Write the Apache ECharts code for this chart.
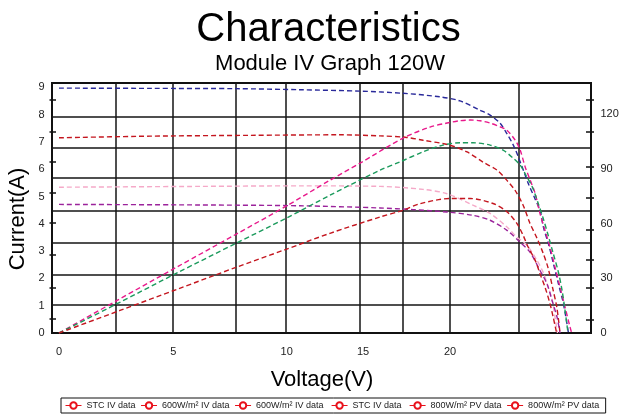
<!DOCTYPE html>
<html>
<head>
<meta charset="utf-8">
<script src="https://cdn.jsdelivr.net/npm/echarts@6/dist/echarts.min.js"></script>
<style>html,body{margin:0;padding:0;background:#fff}</style>
</head>
<body>
<div id="main" style="width:621px;height:418px;"></div>
<script>
// x axis (volts) and tick labels as printed on the original
var xTickLabels = ['0', '5', '10', '15', '20'];
var xTickAt = [0, 5.02, 10, 13.35, 17.17];
var vGrid = [2.5, 5.01, 7.77, 9.97, 13.22, 15.11, 17.17, 20.2];

// left axis (current) and right axis (power)
var iLabels = [0, 1, 2, 3, 4, 5, 6, 7, 8, 9];
var pLabels = [0, 30, 60, 90, 120];
var hGrid = [1.03, 2.15, 3.31, 4.48, 5.67, 6.79, 7.92];
var leftTicks = [0.54, 1.64, 2.86, 4.02, 5.14, 6.27, 7.37, 8.56];
var rightTicks = [0.48, 1.64, 2.7, 3.8, 4.97, 6.09, 7.37, 8.56];

var legendNames = ['STC IV data', '600W/m² IV data', '600W/m² IV data ', 'STC IV data ', '800W/m² PV data', '800W/m² PV data '];

// IV curves
var blueV = [0, 4.00, 7.77, 10.58, 13.22, 15.11, 16.73, 17.61, 18.49, 18.93, 19.37, 19.66, 19.95, 20.17, 20.39, 20.61, 20.90, 21.12, 21.27, 21.49, 21.71, 21.93, 22.15, 22.37];
var blueI = [8.97, 8.96, 8.95, 8.91, 8.86, 8.78, 8.65, 8.50, 8.16, 7.98, 7.68, 7.31, 6.88, 6.45, 5.96, 5.47, 4.92, 4.49, 3.88, 3.27, 2.54, 1.80, 1.07, 0];

var redIvV = [0, 4.00, 8.39, 12.34, 14.10, 15.20, 15.99, 17.17, 17.92, 18.62, 19.24, 19.67, 20.02, 20.38, 20.68, 20.99, 21.26, 21.48, 21.70, 21.86, 22.00];
var redIvI = [7.15, 7.21, 7.24, 7.26, 7.22, 7.17, 7.06, 6.88, 6.63, 6.26, 5.96, 5.59, 5.23, 4.68, 4.02, 3.47, 2.92, 2.37, 1.56, 0.94, 0];

var pinkV = [0, 6.19, 10.58, 14.10, 15.99, 17.04, 18.18, 18.93, 19.67, 20.11, 20.55, 20.99, 21.26, 21.48, 21.66, 21.78, 21.89];
var pinkI = [5.34, 5.37, 5.39, 5.37, 5.26, 5.10, 4.68, 4.38, 3.88, 3.51, 3.21, 2.66, 2.22, 1.68, 1.19, 0.58, 0];

var purpleV = [0, 6.19, 10.58, 14.10, 15.55, 17.04, 18.18, 18.93, 19.67, 20.24, 20.68, 21.12, 21.43, 21.65, 21.87, 22.00];
var purpleI = [4.71, 4.69, 4.66, 4.58, 4.52, 4.43, 4.31, 4.13, 3.76, 3.33, 2.96, 2.29, 1.80, 1.19, 0.58, 0];

// PV curves
var magV = [0, 2.55, 5.23, 7.77, 9.97, 11.90, 13.22, 15.11, 16.29, 17.04, 17.61, 18.05, 18.49, 18.93, 19.37, 19.66, 20.03, 20.25, 20.47, 20.69, 20.91, 21.12, 21.34, 21.56, 21.78, 22.00, 22.22, 22.44, 22.51];
var magP = [0, 17.85, 36.52, 54.09, 69.47, 83.75, 93.08, 106.81, 112.85, 115.05, 116.31, 116.69, 116.31, 115.05, 113.0, 111.2, 105.71, 100.22, 91.0, 83.75, 76.4, 65.5, 56.29, 47.1, 36.1, 25.2, 14.2, 3.2, 0];

var greenV = [0, 2.55, 5.23, 7.77, 9.97, 11.90, 14.10, 14.98, 15.99, 16.86, 17.61, 18.18, 18.93, 19.50, 19.94, 20.25, 20.55, 20.77, 21.04, 21.26, 21.48, 21.70, 21.92, 22.09, 22.22, 22.35];
var greenP = [0, 16.04, 33.22, 49.15, 62.88, 75.51, 89.24, 93.80, 99.29, 102.97, 104.23, 104.23, 102.97, 100.22, 95.83, 91.98, 85.39, 80.45, 71.11, 62.88, 53.54, 43.66, 33.77, 23.34, 12.36, 0];

var redPvV = [0, 2.68, 5.23, 7.77, 9.97, 11.90, 14.10, 15.11, 15.85, 17.17, 18.05, 19.06, 19.68, 20.11, 20.38, 20.60, 20.91, 21.12, 21.34, 21.56, 21.70, 21.85];
var redPvP = [0, 12.36, 24.16, 35.97, 45.85, 54.64, 63.59, 67.27, 70.84, 73.70, 73.70, 70.95, 66.34, 59.97, 53.54, 47.12, 39.81, 32.51, 25.15, 16.04, 8.68, 0];

var font = 'Liberation Sans, Arial, sans-serif';
var gridColor = '#151515';
var legendRed = '#e8101a';

function pairs(xs, ys) {
    return xs.map(function (x, i) { return [x, ys[i]]; });
}

function curve(name, color, xs, ys, yIndex) {
    return {
        name: name,
        type: 'line',
        yAxisIndex: yIndex,
        data: pairs(xs, ys),
        smooth: 0.3,
        symbol: 'emptyCircle',
        showSymbol: false,
        lineStyle: { color: color, width: 1.4, type: [5, 3] },
        itemStyle: { color: color }
    };
}

var chart = echarts.init(document.getElementById('main'));

var option = {
    animation: false,
    backgroundColor: '#fff',
    textStyle: { fontFamily: font },
    grid: {
        left: 52, right: 30, top: 83, bottom: 85,
        show: true, borderColor: '#111', borderWidth: 2,
        containLabel: false, outerBoundsMode: 'none'
    },
    graphic: [
        { type: 'text', x: 328.5, y: 30, style: { text: 'Characteristics', font: '40px ' + font, fill: '#000', align: 'center', verticalAlign: 'middle' } },
        { type: 'text', x: 330, y: 64, style: { text: 'Module IV Graph 120W', font: '22px ' + font, fill: '#000', align: 'center', verticalAlign: 'middle' } },
        { type: 'text', x: 17.5, y: 219, rotation: Math.PI / 2, style: { text: 'Current(A)', font: '22px ' + font, fill: '#000', align: 'center', verticalAlign: 'middle' } },
        { type: 'text', x: 322, y: 380, style: { text: 'Voltage(V)', font: '22px ' + font, fill: '#000', align: 'center', verticalAlign: 'middle' } }
    ],
    legend: {
        left: 61, top: 398, right: 6,
        orient: 'horizontal',
        borderColor: '#111', borderWidth: 1,
        padding: [3, 4, 3, 4],
        itemGap: 5,
        itemWidth: 16, itemHeight: 8,
        textStyle: { fontSize: 9, color: '#222', fontFamily: font },
        data: legendNames.map(function (n) {
            return {
                name: n,
                itemStyle: { color: legendRed, borderColor: legendRed, borderWidth: 1 },
                lineStyle: { color: legendRed, type: [100, 0], width: 1 }
            };
        })
    },
    xAxis: [{
        type: 'value',
        min: -0.307, max: 23.36,
        position: 'bottom',
        axisLine: { show: false },
        axisTick: { show: false, customValues: vGrid },
        splitLine: { show: true, lineStyle: { color: gridColor, width: 1.5 } },
        axisLabel: {
            customValues: xTickAt,
            margin: 13, fontSize: 11, color: '#222',
            formatter: function (v) {
                var k = xTickAt.findIndex(function (t) { return Math.abs(t - v) < 1e-6; });
                return k < 0 ? '' : xTickLabels[k];
            }
        }
    }],
    yAxis: [{
        type: 'value', min: 0, max: 9.157, position: 'left',
        axisLine: { show: false }, axisTick: { show: false }, splitLine: { show: false },
        axisLabel: { customValues: iLabels, margin: 7.5, fontSize: 11, color: '#222' }
    }, {
        type: 'value', min: 0, max: 137, position: 'right',
        axisLine: { show: false }, axisTick: { show: false }, splitLine: { show: false },
        axisLabel: { customValues: pLabels, margin: 9.5, fontSize: 11, color: '#222' }
    }, {
        type: 'value', min: 0, max: 9.157, position: 'left',
        axisLine: { show: false }, axisLabel: { show: false },
        axisTick: { show: false, customValues: hGrid },
        splitLine: { show: true, lineStyle: { color: gridColor, width: 1.5 } }
    }, {
        type: 'value', min: 0, max: 9.157, position: 'left', offset: -4,
        axisLine: { show: false }, axisLabel: { show: false }, splitLine: { show: false },
        axisTick: { show: true, customValues: leftTicks, length: 6.5, lineStyle: { color: '#111', width: 1.5 } }
    }, {
        type: 'value', min: 0, max: 9.157, position: 'right', offset: -5,
        axisLine: { show: false }, axisLabel: { show: false }, splitLine: { show: false },
        axisTick: { show: true, customValues: rightTicks, length: 8, lineStyle: { color: '#111', width: 1.5 } }
    }],
    series: [
        curve('STC IV data', '#29299a', blueV, blueI, 0),
        curve('STC IV data ', '#c4161f', redIvV, redIvI, 0),
        curve('600W/m² IV data', '#f5a9c8', pinkV, pinkI, 0),
        curve('600W/m² IV data ', '#9b239b', purpleV, purpleI, 0),
        curve('800W/m² PV data', '#e8198b', magV, magP, 1),
        curve('800W/m² PV data ', '#1b9a5c', greenV, greenP, 1),
        curve('STC PV data', '#c4161f', redPvV, redPvP, 1)
    ]
};

chart.setOption(option);
</script>
</body>
</html>
